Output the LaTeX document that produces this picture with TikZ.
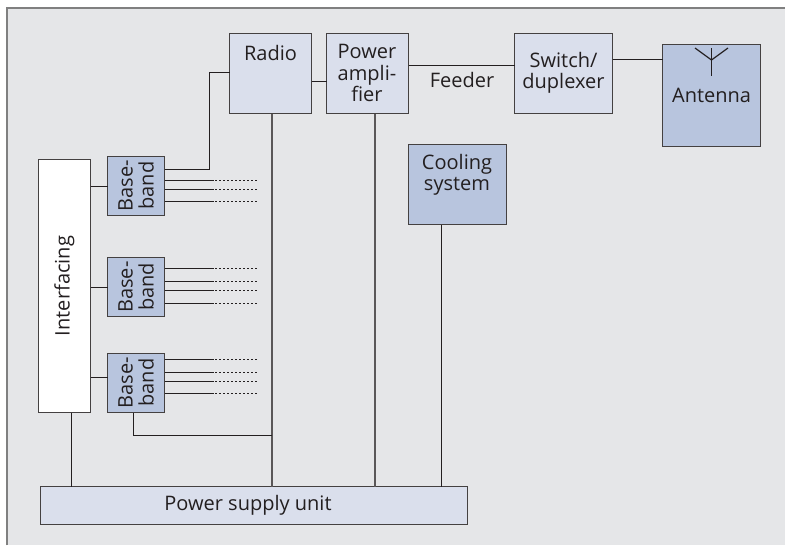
\documentclass[tikz,border=0pt]{standalone}
\usepackage{fontspec}
\setmainfont{Open Sans}
\definecolor{panel}{HTML}{E5E6E8}
\definecolor{lightb}{HTML}{DADFEC}
\definecolor{darkb}{HTML}{B8C5DE}
\definecolor{ink}{HTML}{231F20}
\definecolor{frame}{HTML}{808080}
\tikzset{
  boxbase/.style={draw=ink!85!white,line width=.9pt,inner sep=0pt,outer sep=0pt},
  lightbox/.style={boxbase,fill=lightb},
  darkbox/.style={boxbase,fill=darkb},
  whitebox/.style={boxbase,fill=white},
  txt/.style={text=ink,font=\fontsize{15pt}{15.8pt}\selectfont,align=center,inner sep=0pt},
  wire/.style={draw=ink,line width=.9pt},
  heavywire/.style={draw=ink!75!white,line width=1.1pt},
  dots/.style={draw=ink,line width=.8pt,dash pattern=on 1.5pt off 1.5pt},
}
\begin{document}
\begin{tikzpicture}[x=.75pt,y=-.75pt]
\useasboundingbox (0,0) rectangle (785,546);
\fill[panel] (7,8) rectangle (785,545.3);
\draw[frame,line width=1.4pt] (7,545.3) -- (7,8) -- (785,8);

\node[lightbox,minimum width=61.5pt,minimum height=60pt] (radio) at (270.5,73.5) {};
\node[lightbox,minimum width=61.5pt,minimum height=60pt] (pa) at (367.5,73.5) {};
\node[lightbox,minimum width=73.5pt,minimum height=60pt] (sw) at (563.5,73.5) {};
\node[darkbox,minimum width=73.5pt,minimum height=76.5pt] (ant) at (711.5,95.5) {};
\node[darkbox,minimum width=73.5pt,minimum height=60pt] (cool) at (457.5,184.5) {};
\node[whitebox,minimum width=39pt,minimum height=189.75pt] (intf) at (64.5,286) {};
\node[darkbox,minimum width=42.75pt,minimum height=44.25pt] (bbA) at (136,186) {};
\node[darkbox,minimum width=42.75pt,minimum height=44.25pt] (bbB) at (136,287) {};
\node[darkbox,minimum width=42.75pt,minimum height=44.25pt] (bbC) at (136,383) {};
\node[lightbox,minimum width=320.25pt,minimum height=28.5pt] (psu) at (254,505.5) {};

\node[txt] (tRadio) at (270.5,53) {Radio};
\node[txt] (tPa) at (367,73) {Power\\ampli-\\fier};
\node[txt] (tFeeder) at (462,80) {Feeder};
\node[txt] (tSw) at (563.5,73) {Switch/\\duplexer};
\node[txt] (tAnt) at (711.6,95) {Antenna};
\node[txt] (tCool) at (457,175) {Cooling\\system};
\node[txt,rotate=90] (tIntf) at (64.5,286) {Interfacing};
\node[txt,rotate=90] (tbA) at (136,185.5) {Base-\\band};
\node[txt,rotate=90] (tbB) at (136,287) {Base-\\band};
\node[txt,rotate=90] (tbC) at (136,382.5) {Base-\\band};
\node[txt] (tPsu) at (248,505) {Power supply unit};

% radio chain
\draw[wire] (radio.east |- 0,81.5) -- (pa.west |- 0,81.5);
\draw[wire] (pa.east |- 0,65.5) -- (sw.west |- 0,65.5);
\draw[wire] (sw.east |- 0,59.5) -- (ant.west |- 0,59.5);
\draw[wire] (bbA.east |- 0,169.5) -- (209.5,169.5) -- (209.5,72.5) -- (radio.west |- 0,72.5);
% interfacing to baseband
\draw[wire] (intf.east |- 0,186.5) -- (bbA.west |- 0,186.5);
\draw[wire] (intf.east |- 0,287.5) -- (bbB.west |- 0,287.5);
\draw[wire] (intf.east |- 0,377.5) -- (bbC.west |- 0,377.5);
% power
\draw[heavywire] (radio.south -| 272,0) -- (psu.north -| 272,0);
\draw[heavywire] (pa.south -| 375,0) -- (psu.north -| 375,0);
\draw[wire] (cool.south -| 441.5,0) -- (psu.north -| 441.5,0);
\draw[wire] (intf.south -| 71.5,0) -- (psu.north -| 71.5,0);
\draw[wire] (bbC.south -| 133.5,0) -- (133.5,435.5) -- (272,435.5);
% baseband outputs
\foreach \bb/\ya/\yb/\yc/\yd in {bbA/-1/180.5/189.5/201.5,bbB/268.5/281.5/290.5/303.5,bbC/359.5/372.5/381.5/393.5}{
  \foreach \yy in {\ya,\yb,\yc,\yd}{
    \ifdim\yy pt>0pt
      \draw[wire] (\bb.east |- 0,\yy) -- (214,\yy);
      \draw[dots] (215,\yy) -- (258,\yy);
    \fi
  }
}
% antenna symbol
\coordinate (antTop) at (711.5,48);
\coordinate (antFoot) at (711.5,76);
\coordinate (antJoin) at (711.5,60);
\coordinate (antL) at (695,48);
\coordinate (antR) at (728,48);
\draw[wire] (antTop) -- (antFoot);
\draw[wire] (antL) -- (antJoin) -- (antR);
\end{tikzpicture}
\end{document}
